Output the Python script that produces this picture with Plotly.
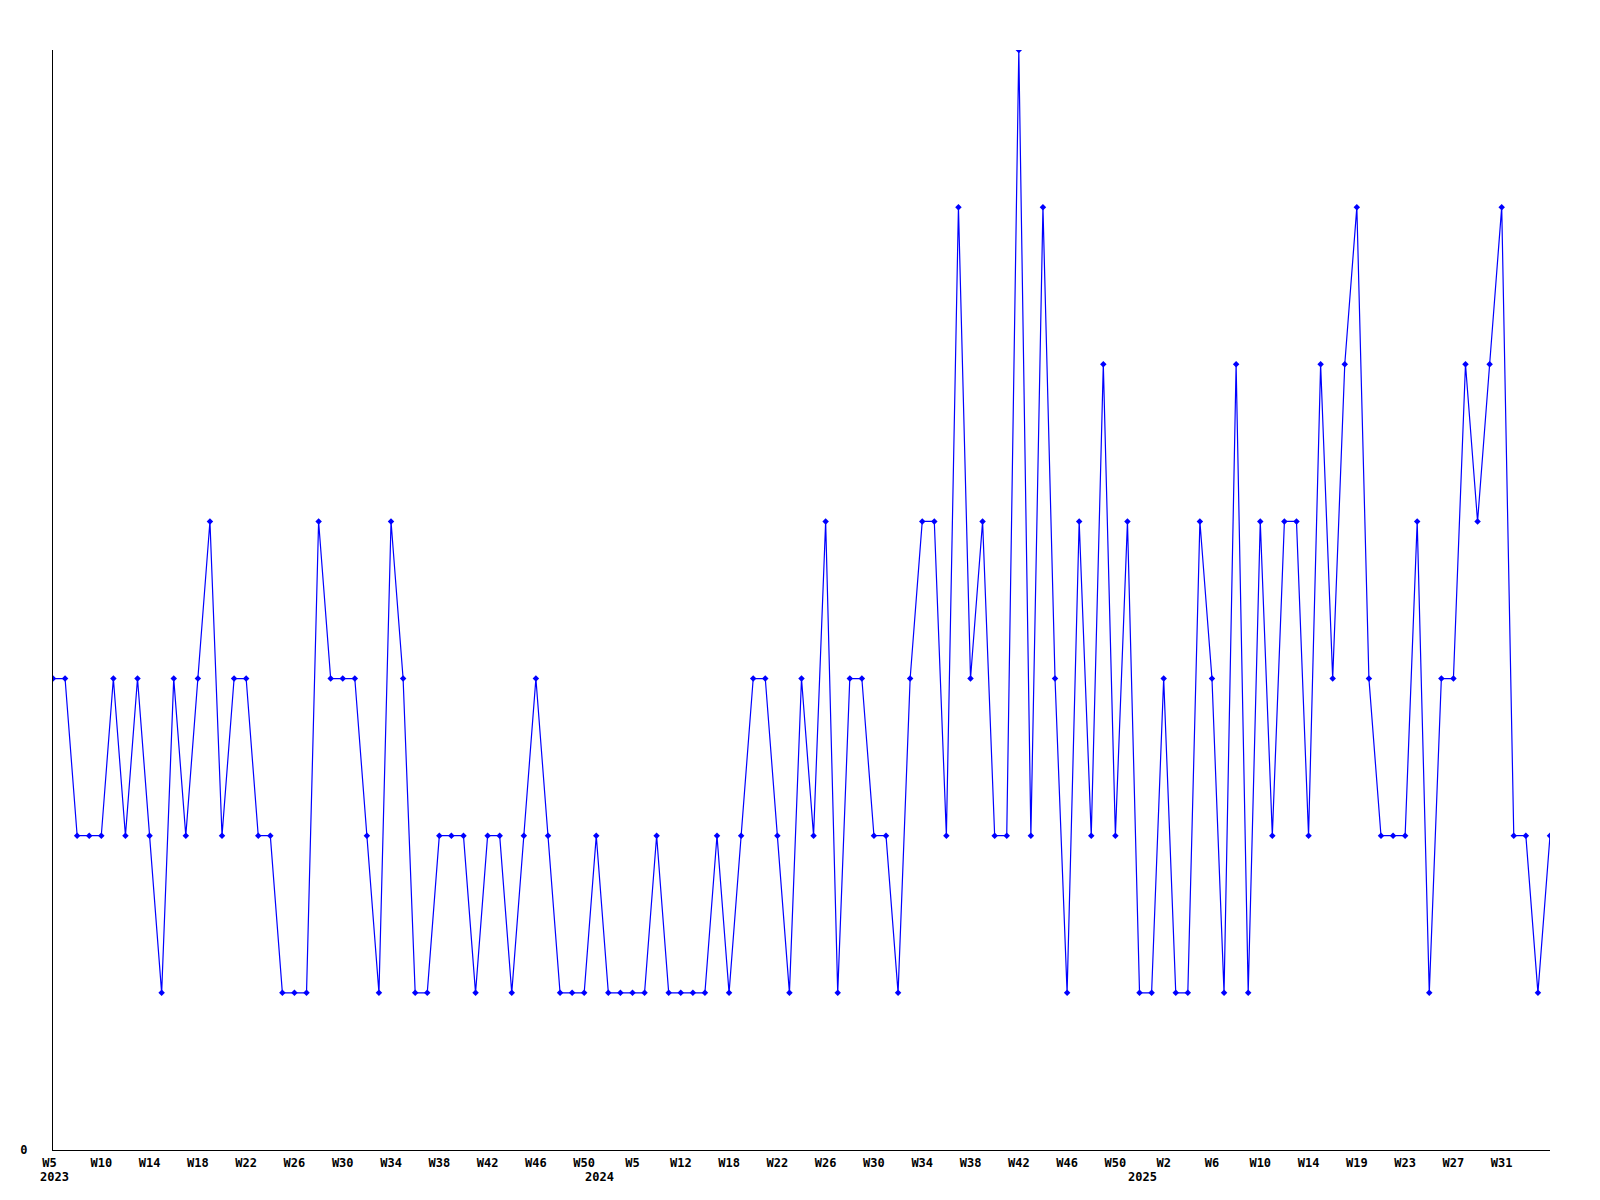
import plotly.graph_objects as go

# Week categories (weeks with no entries are absent from the series)
weeks = (
    ["2023-W05", "2023-W06", "2023-W07", "2023-W08"]
    + ["2023-W%02d" % w for w in range(10, 51)]
    + ["2023-W52"]
    + ["2024-W01", "2024-W03", "2024-W05", "2024-W06", "2024-W08", "2024-W10",
       "2024-W12", "2024-W13", "2024-W15", "2024-W16", "2024-W18"]
    + ["2024-W%02d" % w for w in range(19, 53)]
    + ["2025-W%02d" % w for w in range(1, 17)]
    + ["2025-W18", "2025-W19"]
    + ["2025-W%02d" % w for w in range(20, 36)]
)

values = [
    3, 3, 2, 2, 2, 3, 2, 3, 2, 1,
    3, 2, 3, 4, 2, 3, 3, 2, 2, 1,
    1, 1, 4, 3, 3, 3, 2, 1, 4, 3,
    1, 1, 2, 2, 2, 1, 2, 2, 1, 2,
    3, 2, 1, 1, 1, 2, 1, 1, 1, 1,
    2, 1, 1, 1, 1, 2, 1, 2, 3, 3,
    2, 1, 3, 2, 4, 1, 3, 3, 2, 2,
    1, 3, 4, 4, 2, 6, 3, 4, 2, 2,
    7, 2, 6, 3, 1, 4, 2, 5, 2, 4,
    1, 1, 3, 1, 1, 4, 3, 1, 5, 1,
    4, 2, 4, 4, 2, 5, 3, 5, 6, 3,
    2, 2, 2, 4, 1, 3, 3, 5, 4, 5,
    6, 2, 2, 1, 2,
]

tick_labels = [
    "W5", "W10", "W14", "W18", "W22", "W26", "W30", "W34", "W38", "W42", "W46", "W50",
    "W5", "W12", "W18", "W22", "W26", "W30", "W34", "W38", "W42", "W46", "W50",
    "W2", "W6", "W10", "W14", "W19", "W23", "W27", "W31",
]
tick_vals = weeks[::4][:len(tick_labels)]
# first label sits slightly left of its tick in the reference
tick_text = [tick_labels[0] + "\u00a0"] + tick_labels[1:]

year_labels = ["2023", "2024", "2025"]
year_anchor_weeks = ["2023-W05", "2024-W01", "2025-W01"]

FONT = "DejaVu Sans Mono"
TF = dict(family=FONT, size=12, color="black", weight="bold")

fig = go.Figure()
fig.add_trace(go.Scatter(
    x=weeks, y=values, mode="lines+markers",
    line=dict(color="#0000FF", width=1.2),
    marker=dict(color="#0000FF", size=5, symbol="diamond"),
    showlegend=False, hoverinfo="x+y",
))

for i, (lab, wk) in enumerate(zip(year_labels, year_anchor_weeks)):
    if i == 0:
        fig.add_annotation(x=wk, xref="x", y=0, yref="paper", text=lab,
                           showarrow=False, xanchor="left", yanchor="middle",
                           xshift=-15, yshift=-27, font=TF)
    else:
        fig.add_annotation(x=wk, xref="x", y=0, yref="paper", text=lab,
                           showarrow=False, xanchor="center", yanchor="middle",
                           xshift=-9, yshift=-27, font=TF)

fig.update_layout(
    width=1600, height=1200,
    margin=dict(l=41, r=58, t=42, b=58),
    paper_bgcolor="white", plot_bgcolor="white",
    font=TF,
    xaxis=dict(
        type="category", categoryorder="array", categoryarray=weeks,
        range=[0, len(weeks) - 1],
        tickmode="array", tickvals=tick_vals, ticktext=tick_text,
        ticks="", showgrid=False, zeroline=False,
        showline=True, linecolor="black", linewidth=1,
        tickangle=0, ticklabelstandoff=2, tickfont=TF,
    ),
    yaxis=dict(
        range=[0, 7], tickmode="array", tickvals=[0], ticktext=["0"],
        ticks="", showgrid=False, zeroline=False,
        showline=True, linecolor="black", linewidth=1,
        ticklabelstandoff=22, tickfont=TF,
    ),
)

fig.write_html("out.html")
